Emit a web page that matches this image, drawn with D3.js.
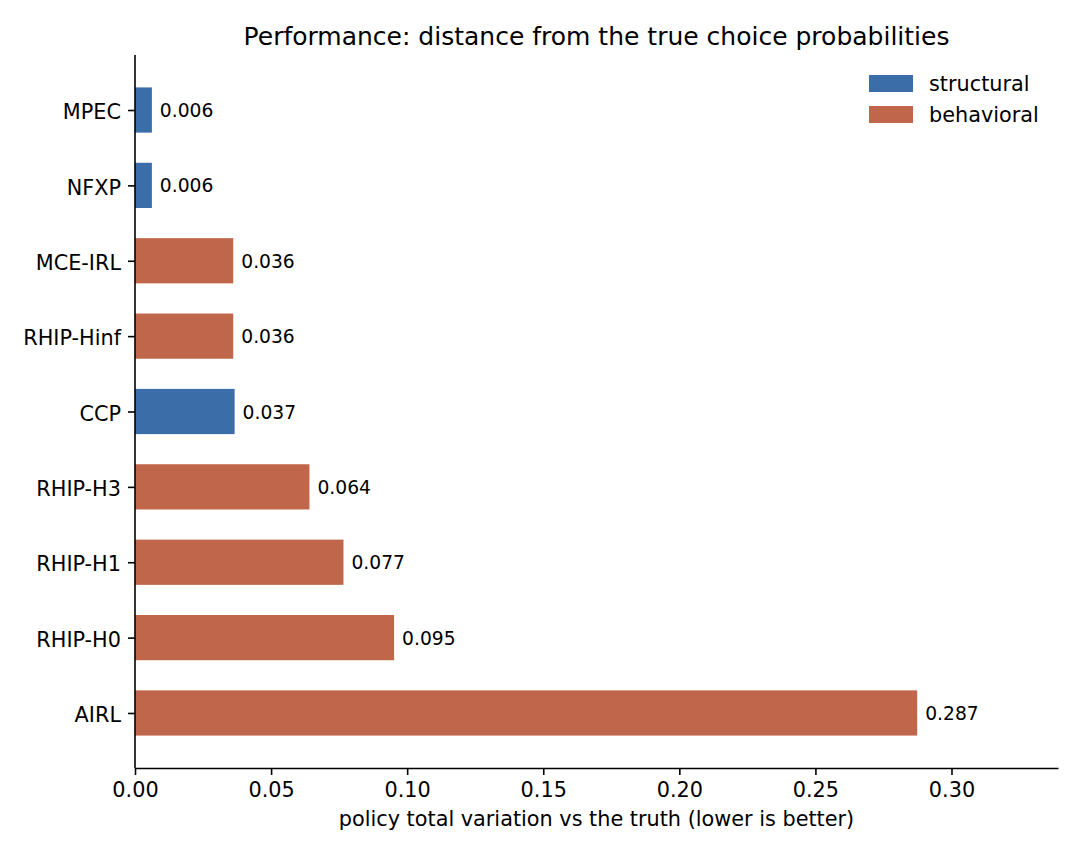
<!DOCTYPE html>
<html>
<head>
<meta charset="utf-8">
<script src="https://cdn.jsdelivr.net/npm/d3@7"></script>
<style>
  body { margin: 0; background: #fff; }
  svg text { font-family: "DejaVu Sans", sans-serif; fill: #000; }
</style>
</head>
<body>
<svg id="chart" width="1080" height="855"></svg>
<script>
// --- data ---
const methods = ['MPEC', 'NFXP', 'MCE-IRL', 'RHIP-Hinf', 'CCP', 'RHIP-H3', 'RHIP-H1', 'RHIP-H0', 'AIRL'];
const distances = [0.0062, 0.0062, 0.0361, 0.0361, 0.0366, 0.0641, 0.0766, 0.0952, 0.2874];
const kinds = ['structural', 'structural', 'behavioral', 'behavioral', 'structural', 'behavioral', 'behavioral', 'behavioral', 'behavioral'];
const xTicks = [0, 0.05, 0.1, 0.15, 0.2, 0.25, 0.3];
const legendKeys = ['structural', 'behavioral'];

const colors = { structural: '#3b6ea8', behavioral: '#c0674b' };

const svg = d3.select('#chart');
const margin = { top: 55, right: 22, bottom: 87, left: 135 };
const width = +svg.attr('width') - margin.left - margin.right;
const height = +svg.attr('height') - margin.top - margin.bottom;
const g = svg.append('g').attr('transform', `translate(${margin.left},${margin.top})`);

// matplotlib-like limits: bars of height 0.6, 5% margins
const x = d3.scaleLinear().domain([0, d3.max(distances) * 1.18]).range([0, width]);
const y = d3.scaleLinear().domain([-0.73, 8.73]).range([0, height]);
const barH = y(0.6) - y(0);

// bars
g.selectAll('rect.bar')
  .data(methods)
  .join('rect')
  .attr('class', 'bar')
  .attr('x', x(0))
  .attr('y', (d, i) => y(i) - barH / 2)
  .attr('width', (d, i) => x(distances[i]) - x(0))
  .attr('height', barH)
  .attr('fill', (d, i) => colors[kinds[i]]);

// value labels
g.selectAll('text.val')
  .data(methods)
  .join('text')
  .attr('class', 'val')
  .attr('x', (d, i) => x(distances[i]) + 8)
  .attr('y', (d, i) => y(i))
  .attr('dy', '0.38em')
  .style('font-size', '18.7px')
  .text((d, i) => distances[i].toFixed(3));

// x axis
const xAxis = g.append('g')
  .attr('transform', `translate(0,${height})`)
  .call(d3.axisBottom(x).tickValues(xTicks).tickFormat(d3.format('.2f')).tickSize(7).tickSizeOuter(0).tickPadding(7));
xAxis.select('.domain').attr('stroke', '#000').attr('stroke-width', 1.6);
xAxis.selectAll('.tick line').attr('stroke', '#000').attr('stroke-width', 1.6);
xAxis.selectAll('.tick text').style('font-size', '20.8px');

// y axis
const yAxis = g.append('g')
  .call(d3.axisLeft(y).tickValues(d3.range(methods.length)).tickFormat(i => methods[i]).tickSize(7).tickSizeOuter(0).tickPadding(7));
yAxis.select('.domain').attr('d', `M0,0V${height}`).attr('stroke', '#000').attr('stroke-width', 1.6);
yAxis.selectAll('.tick line').attr('stroke', '#000').attr('stroke-width', 1.6);
yAxis.selectAll('.tick text').style('font-size', '20.8px').attr('dy', '0.42em');

// title & axis label
svg.append('text')
  .attr('x', margin.left + width / 2)
  .attr('y', 45)
  .attr('text-anchor', 'middle')
  .style('font-size', '25px')
  .text('Performance: distance from the true choice probabilities');

svg.append('text')
  .attr('x', margin.left + width / 2)
  .attr('y', 826)
  .attr('text-anchor', 'middle')
  .style('font-size', '20.8px')
  .text('policy total variation vs the truth (lower is better)');

// legend
const legend = svg.append('g').attr('transform', 'translate(869,75)');
legendKeys.forEach((k, i) => {
  legend.append('rect')
    .attr('x', 0)
    .attr('y', i * 31)
    .attr('width', 44)
    .attr('height', 17)
    .attr('fill', colors[k]);
  legend.append('text')
    .attr('x', 60)
    .attr('y', i * 31 + 8.5)
    .attr('dy', '0.35em')
    .style('font-size', '20.8px')
    .text(k);
});
</script>
</body>
</html>
